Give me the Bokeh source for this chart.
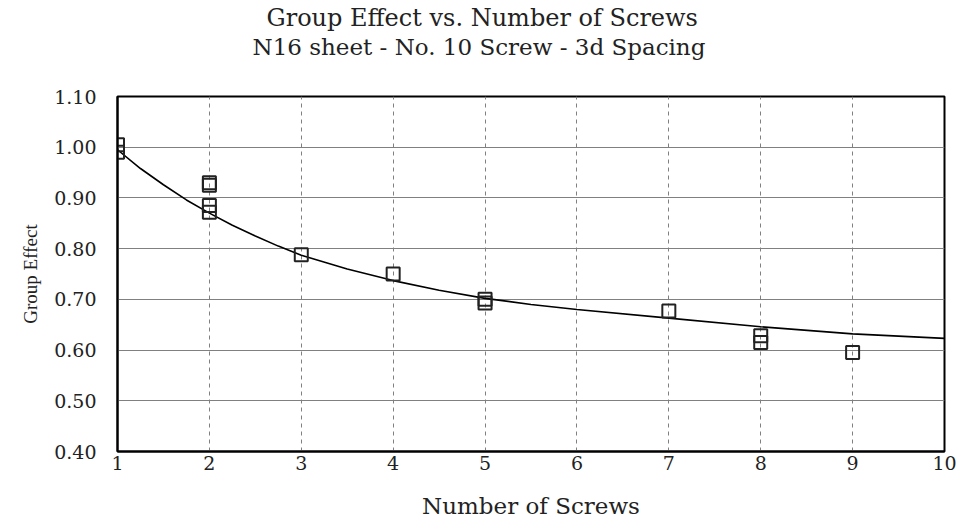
from bokeh.plotting import figure
from bokeh.models import Title, FixedTicker, NumeralTickFormatter
from bokeh.embed import file_html
from bokeh.resources import INLINE

# measured group effect for each test (number of screws vs. group effect)
screws = [1, 1, 2, 2, 2, 2, 3, 4, 5, 5, 7, 8, 8, 9]
group_effect = [1.005, 0.99, 0.93, 0.925, 0.885, 0.872, 0.788, 0.75, 0.70, 0.693, 0.677, 0.628, 0.615, 0.595]

# trend curve
trend_x = [1, 1.25, 1.5, 1.75, 2, 2.25, 2.5, 2.75, 3, 3.5, 4, 4.5, 5, 5.5, 6, 7, 8, 9, 10]
trend_y = [0.995, 0.958, 0.926, 0.896, 0.870, 0.846, 0.825, 0.805, 0.787, 0.760, 0.737, 0.718, 0.702, 0.690, 0.680, 0.663, 0.646, 0.632, 0.623]

x_ticks = [1, 2, 3, 4, 5, 6, 7, 8, 9, 10]
y_ticks = [0.40, 0.50, 0.60, 0.70, 0.80, 0.90, 1.00, 1.10]

title_1 = "Group Effect vs. Number of Screws"
title_2 = "N16 sheet - No. 10 Screw - 3d Spacing"

FONT = "DejaVu Serif"

p = figure(width=957, height=521, x_range=(1, 10), y_range=(0.40, 1.10),
           output_backend="svg", toolbar_location=None, title=None,
           min_border_left=117, min_border_right=13, min_border_top=96, min_border_bottom=69)

# spacer between frame and subtitle
p.add_layout(Title(text=" ", text_font=FONT, text_font_size="30px", standoff=0), "above")
p.add_layout(Title(text=title_2, align="left", offset=135, text_font=FONT, standoff=0,
                   text_font_size="23px", text_font_style="normal", text_color="#222222"), "above")
p.add_layout(Title(text=title_1, align="left", offset=149, text_font=FONT, standoff=0,
                   text_font_size="24px", text_font_style="normal", text_color="#222222"), "above")

p.background_fill_color = "white"
p.border_fill_color = "white"
p.outline_line_color = "black"
p.outline_line_width = 2

p.line(trend_x, trend_y, line_color="black", line_width=1.6)
p.scatter(screws, group_effect, marker="square", size=13, line_color="#222222",
          line_width=2, fill_alpha=0)

p.xaxis.ticker = FixedTicker(ticks=x_ticks)
p.yaxis.ticker = FixedTicker(ticks=y_ticks)
p.yaxis.formatter = NumeralTickFormatter(format="0.00")

for ax in (p.xaxis, p.yaxis):
    ax.axis_line_color = "black"
    ax.axis_line_width = 2
    ax.major_tick_in = 0
    ax.major_tick_out = 0
    ax.minor_tick_line_color = None
    ax.major_label_text_font = FONT
    ax.major_label_text_font_size = "19px"
    ax.major_label_text_color = "#222222"
    ax.axis_label_text_font_style = "normal"
    ax.axis_label_text_color = "#222222"

p.xaxis.axis_label = "Number of Screws"
p.xaxis.axis_label_text_font = FONT
p.xaxis.axis_label_text_font_size = "23px"
p.yaxis.axis_label = "Group Effect"
p.yaxis.axis_label_text_font = "Liberation Serif"
p.yaxis.axis_label_text_font_size = "19px"
p.xaxis.major_label_standoff = 4
p.xaxis.axis_label_standoff = 20
p.yaxis.major_label_standoff = 21
p.yaxis.axis_label_standoff = 10

p.ygrid.grid_line_color = "#808080"
p.ygrid.grid_line_width = 1
p.xgrid.grid_line_color = "#808080"
p.xgrid.grid_line_width = 1
p.xgrid.grid_line_dash = "4 4"

open("out.html", "w").write(file_html(p, INLINE))
